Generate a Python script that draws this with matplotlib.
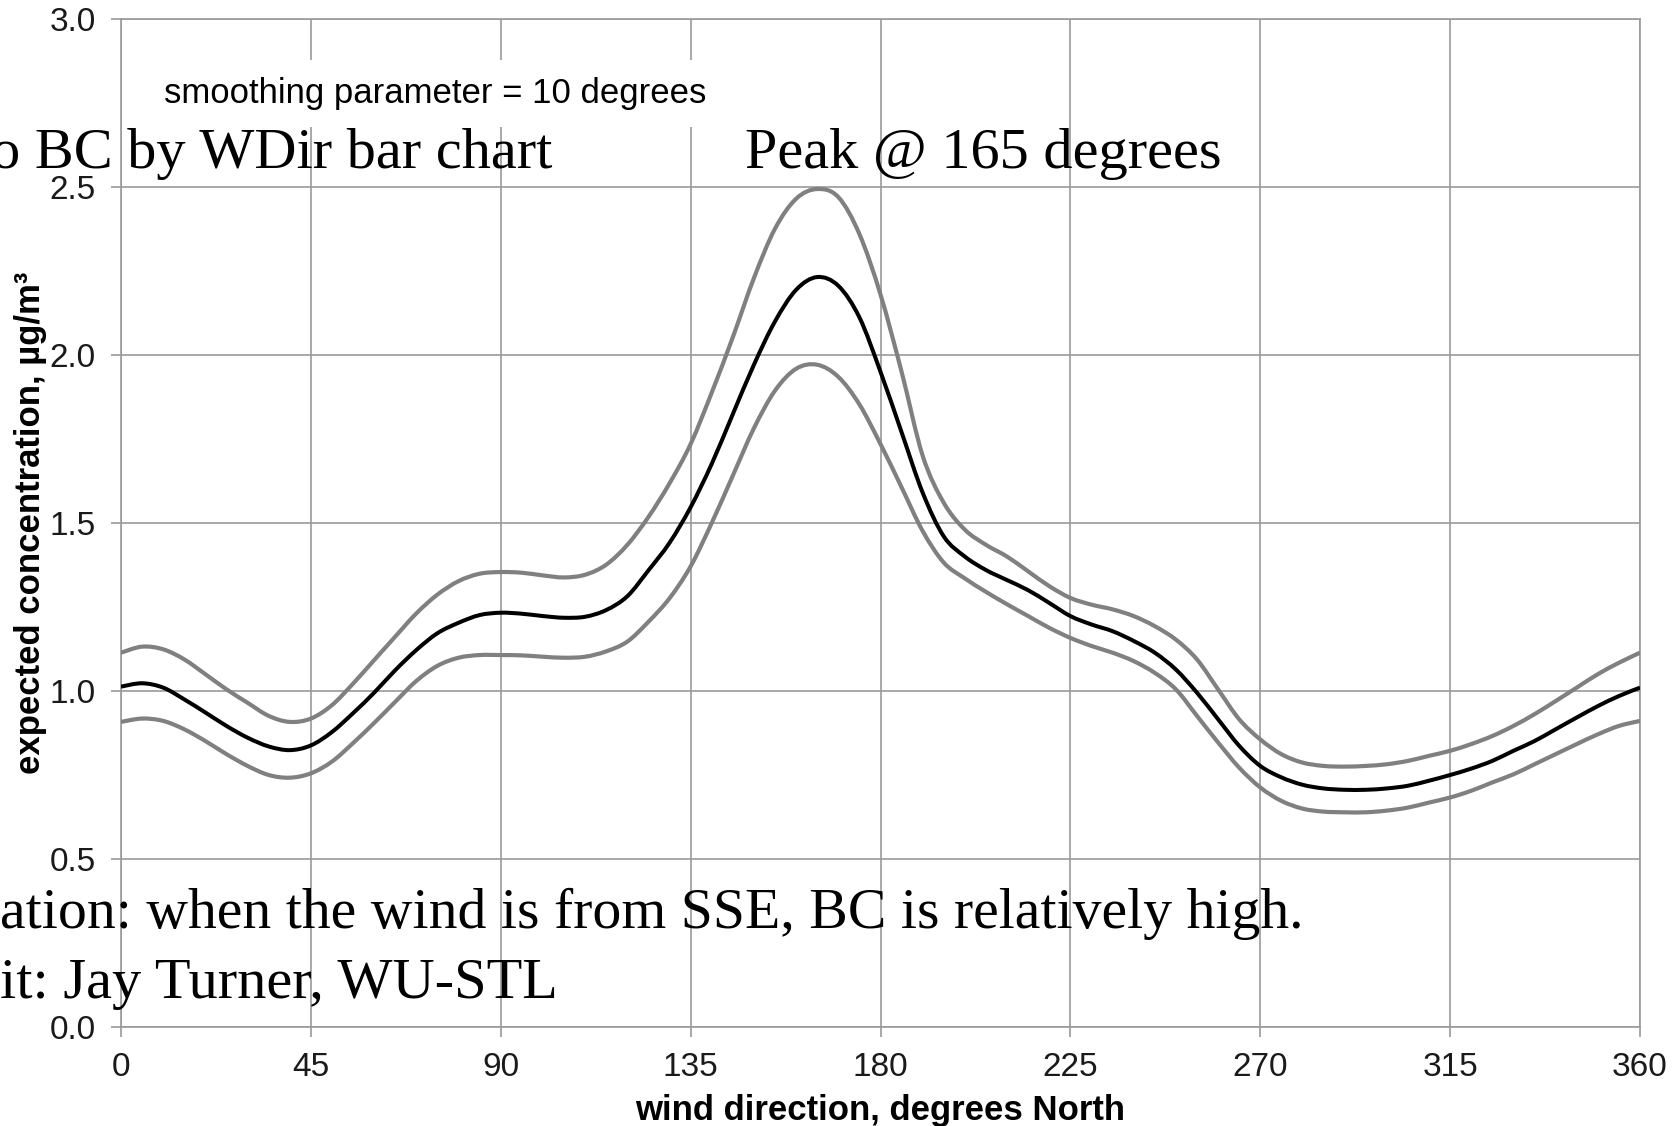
import numpy as np
import matplotlib.pyplot as plt
from matplotlib.path import Path
from matplotlib.patches import PathPatch

# values, every 5 degrees
wind_dir = list(range(0, 361, 5))

conc_mid = [1.013, 1.023, 1.010, 0.975, 0.936, 0.896, 0.861, 0.835, 0.824, 0.838,
            0.878, 0.934, 0.995, 1.062, 1.122, 1.172, 1.203, 1.226, 1.233, 1.230,
            1.223, 1.218, 1.221, 1.241, 1.282, 1.359, 1.441, 1.547, 1.676, 1.824,
            1.971, 2.100, 2.194, 2.232, 2.206, 2.112, 1.950, 1.770, 1.590, 1.460,
            1.400, 1.360, 1.330, 1.300, 1.262, 1.223, 1.198, 1.178, 1.149, 1.114,
            1.064, 0.995, 0.916, 0.837, 0.777, 0.743, 0.721, 0.710, 0.706, 0.706,
            0.710, 0.718, 0.733, 0.750, 0.769, 0.792, 0.822, 0.851, 0.886, 0.921,
            0.955, 0.985, 1.010]

conc_upper = [1.114, 1.132, 1.124, 1.094, 1.050, 1.005, 0.965, 0.926, 0.908, 0.918,
              0.958, 1.022, 1.092, 1.162, 1.231, 1.287, 1.327, 1.349, 1.354, 1.352,
              1.344, 1.338, 1.346, 1.376, 1.435, 1.518, 1.618, 1.735, 1.888, 2.053,
              2.229, 2.376, 2.465, 2.494, 2.470, 2.360, 2.180, 1.950, 1.700, 1.560,
              1.480, 1.435, 1.400, 1.356, 1.312, 1.277, 1.257, 1.243, 1.223, 1.193,
              1.153, 1.094, 1.005, 0.916, 0.856, 0.812, 0.787, 0.777, 0.775, 0.777,
              0.782, 0.792, 0.807, 0.822, 0.842, 0.866, 0.896, 0.931, 0.970, 1.010,
              1.050, 1.084, 1.114]

conc_lower = [0.908, 0.918, 0.911, 0.886, 0.851, 0.812, 0.777, 0.750, 0.742, 0.755,
              0.790, 0.845, 0.905, 0.968, 1.030, 1.075, 1.099, 1.107, 1.107, 1.106,
              1.102, 1.099, 1.102, 1.118, 1.147, 1.206, 1.276, 1.371, 1.500, 1.641,
              1.782, 1.894, 1.959, 1.971, 1.935, 1.853, 1.735, 1.606, 1.476, 1.382,
              1.335, 1.295, 1.258, 1.223, 1.188, 1.158, 1.134, 1.114, 1.089, 1.054,
              1.005, 0.926, 0.847, 0.772, 0.713, 0.673, 0.650, 0.641, 0.639, 0.639,
              0.644, 0.653, 0.668, 0.683, 0.703, 0.728, 0.752, 0.782, 0.812, 0.842,
              0.871, 0.896, 0.911]

x_ticks = list(range(0, 361, 45))
y_ticks = [0.0, 0.5, 1.0, 1.5, 2.0, 2.5, 3.0]

W, H = 1681, 1126
sans = ['Liberation Sans', 'DejaVu Sans']
serif = ['Liberation Serif', 'DejaVu Serif']


def smooth_path(xs, ys):
    # bezier path through the read points (catmull-rom style handles)
    p = np.column_stack([xs, ys]).astype(float)
    n = len(p)
    verts = [p[0]]
    codes = [Path.MOVETO]
    for i in range(n - 1):
        p0 = p[i - 1] if i > 0 else p[i]
        p3 = p[i + 2] if i + 2 < n else p[i + 1]
        c1 = p[i] + (p[i + 1] - p0) / 6.0
        c2 = p[i + 1] - (p3 - p[i]) / 6.0
        verts += [c1, c2, p[i + 1]]
        codes += [Path.CURVE4] * 3
    return Path(verts, codes)


fig = plt.figure(figsize=(W / 100, H / 100), dpi=100)
ax = fig.add_axes([121 / W, 1 - 1027 / H, (1640 - 121) / W, (1027 - 19) / H])

grid_col = '#9a9a9a'
for ys, col, lw, z in [(conc_upper, '#808080', 3.0, 3),
                       (conc_lower, '#808080', 3.0, 3),
                       (conc_mid, 'black', 2.9, 4)]:
    ax.add_patch(PathPatch(smooth_path(wind_dir, ys), fill=False, edgecolor=col,
                           lw=lw, joinstyle='round', capstyle='butt', zorder=z))

ax.set_xlim(0, 360)
ax.set_ylim(0, 3)
ax.set_xticks(x_ticks)
ax.set_yticks(y_ticks)
ax.set_xticklabels([str(t) for t in x_ticks], family=sans, fontsize=24, color='#1a1a1a')
ax.set_yticklabels(['%.1f' % t for t in y_ticks], family=sans, fontsize=24, color='#1a1a1a')
ax.tick_params(length=7, width=1.2, color=grid_col, pad=11)
ax.grid(True, color=grid_col, lw=1.2)
ax.set_axisbelow(True)
for s in ax.spines.values():
    s.set_color(grid_col)
    s.set_linewidth(1.2)

ax.set_xlabel('wind direction, degrees North', family=sans, fontsize=25,
              fontweight='bold', labelpad=8)
ax.set_ylabel('expected concentration, µg/m³', family=sans, fontsize=25,
              fontweight='bold', labelpad=2)

fig.text(164 / W, 1 - 103 / H, 'smoothing parameter = 10 degrees', family=sans,
         fontsize=25, va='baseline', ha='left', zorder=5,
         bbox=dict(facecolor='white', edgecolor='none', pad=12))

# slide text laid over the chart
fig.text(552 / W, 1 - 168 / H, 'o BC by WDir bar chart', family=serif, fontsize=42,
         va='baseline', ha='right')
fig.text(745 / W, 1 - 168 / H, 'Peak @ 165 degrees', family=serif, fontsize=42,
         va='baseline', ha='left')
fig.text(0, 1 - 928 / H, 'ation: when the wind is from SSE, BC is relatively high.',
         family=serif, fontsize=41.6, va='baseline', ha='left')
fig.text(0, 1 - 998 / H, 'it: Jay Turner, WU-STL', family=serif, fontsize=42,
         va='baseline', ha='left')

fig.savefig('out.png', dpi=100)
